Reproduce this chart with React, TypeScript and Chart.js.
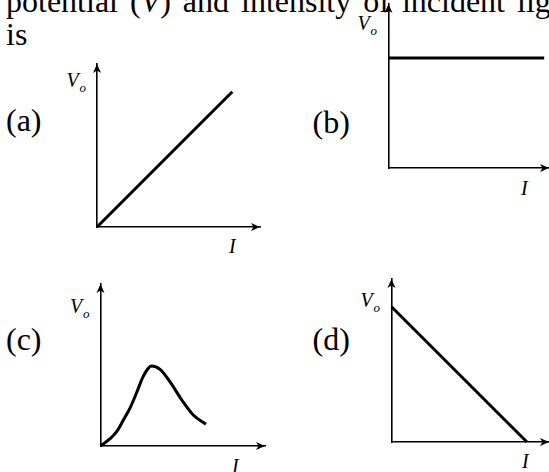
import React, { useEffect, useRef } from "react";
import { Chart, registerables } from "chart.js";

Chart.register(...registerables);

const PAGE_W = 549;
const PAGE_H = 472;

// Stopping potential (V_o) against intensity (I) for the four options
const aIntensity = [0, 8.3];
const aPotential = [0, 8.3];

const bIntensity = [0, 9.7];
const bPotential = [6.7, 6.7];

const cIntensity = [0, 0.58, 0.98, 1.39, 1.8, 2.2, 2.6, 3.11, 3.62, 4.22, 4.94, 5.64, 6.41];
const cPotential = [0, 0.45, 0.88, 1.6, 2.35, 3.3, 4.3, 4.94, 4.73, 3.97, 2.84, 1.91, 1.34];

const dIntensity = [0, 8.6];
const dPotential = [8.3, 0];

const optionLabels = ["(a)", "(b)", "(c)", "(d)"];
const xAxisLabel = "I";
const yAxisLabel = "V";
const yAxisSub = "o";
const questionLine1 = ["potential (", "V", ") and intensity of incident light"];
const questionLine2 = "is";

const SERIF = '"Liberation Serif", "Times New Roman", Times, serif';

type Box = { left: number; top: number; right: number; bottom: number };

// Axis frame of each small plot on the page (origin at bottom-left, arrow tips at top/right)
const panels: { xs: number[]; ys: number[]; box: Box; smooth: boolean }[] = [
  { xs: aIntensity, ys: aPotential, box: { left: 97, top: 64, right: 260, bottom: 227 }, smooth: false },
  { xs: bIntensity, ys: bPotential, box: { left: 388.5, top: 4, right: 549, bottom: 168 }, smooth: false },
  { xs: cIntensity, ys: cPotential, box: { left: 100.5, top: 284, right: 265, bottom: 446 }, smooth: true },
  { xs: dIntensity, ys: dPotential, box: { left: 391.5, top: 279, right: 549, bottom: 442 }, smooth: false },
];

// Arrowheads at the ends of both axes
const arrowPlugin = {
  id: "axisArrows",
  afterDraw(chart: any) {
    const { ctx, chartArea } = chart;
    const x0 = chart.scales.y.right;
    const y0 = chart.scales.x.top;
    const len = 9;
    const half = 4;
    const notch = 6.5;
    ctx.save();
    ctx.fillStyle = "#000";
    // up arrow on the V_o axis
    const tx = x0;
    const ty = chartArea.top;
    ctx.beginPath();
    ctx.moveTo(tx, ty);
    ctx.lineTo(tx - half, ty + len);
    ctx.lineTo(tx, ty + notch);
    ctx.lineTo(tx + half, ty + len);
    ctx.closePath();
    ctx.fill();
    // right arrow on the I axis
    const rx = chartArea.right;
    const ry = y0;
    ctx.beginPath();
    ctx.moveTo(rx, ry);
    ctx.lineTo(rx - len, ry - half);
    ctx.lineTo(rx - notch, ry);
    ctx.lineTo(rx - len, ry + half);
    ctx.closePath();
    ctx.fill();
    ctx.restore();
  },
};

function axisOptions() {
  return {
    type: "linear" as const,
    min: 0,
    max: 10,
    grid: { display: false, drawTicks: false },
    ticks: { display: false },
    border: { display: true, color: "#000", width: 1.6 },
  };
}

function Panel({ xs, ys, box, smooth }: { xs: number[]; ys: number[]; box: Box; smooth: boolean }) {
  const ref = useRef<HTMLCanvasElement>(null);
  useEffect(() => {
    if (!ref.current) return;
    const chart = new Chart(ref.current, {
      type: "line",
      data: {
        datasets: [
          {
            data: xs.map((x, i) => ({ x, y: ys[i] })),
            borderColor: "#000",
            borderWidth: 3,
            pointRadius: 0,
            fill: false,
            clip: false as any,
            tension: smooth ? 0.4 : 0,
            cubicInterpolationMode: smooth ? "monotone" : "default",
          } as any,
        ],
      },
      options: {
        responsive: false,
        animation: false,
        events: [],
        layout: {
          padding: {
            left: box.left,
            top: box.top,
            right: PAGE_W - box.right,
            bottom: PAGE_H - box.bottom,
          },
        },
        plugins: { legend: { display: false }, tooltip: { enabled: false } },
        scales: { x: axisOptions(), y: axisOptions() },
      },
      plugins: [arrowPlugin],
    });
    return () => chart.destroy();
  }, []);
  return (
    <canvas
      ref={ref}
      width={PAGE_W}
      height={PAGE_H}
      style={{ position: "absolute", left: 0, top: 0, width: PAGE_W, height: PAGE_H }}
    />
  );
}

// Text placed by its baseline
function Txt({
  x,
  base,
  size,
  italic,
  wordSpacing,
  children,
}: {
  x: number;
  base: number;
  size: number;
  italic?: boolean;
  wordSpacing?: number;
  children: React.ReactNode;
}) {
  return (
    <span
      style={{
        position: "absolute",
        left: x,
        top: base - 0.8375 * size,
        fontSize: size,
        lineHeight: `${size}px`,
        fontFamily: SERIF,
        fontStyle: italic ? "italic" : "normal",
        whiteSpace: "nowrap",
        wordSpacing: wordSpacing ?? 0,
        color: "#000",
      }}
    >
      {children}
    </span>
  );
}

function VoLabel({ x, base }: { x: number; base: number }) {
  return (
    <>
      <Txt x={x} base={base} size={20} italic>
        {yAxisLabel}
      </Txt>
      <Txt x={x + 13} base={base + 5} size={13} italic>
        {yAxisSub}
      </Txt>
    </>
  );
}

export default function App() {
  return (
    <div
      style={{
        position: "fixed",
        left: 0,
        top: 0,
        width: PAGE_W,
        height: PAGE_H,
        overflow: "hidden",
        background: "#fff",
      }}
    >
      <Txt x={6} base={12} size={32} wordSpacing={4}>
        {questionLine1[0]}
        <i>{questionLine1[1]}</i>
        {questionLine1[2]}
      </Txt>
      <Txt x={6} base={45} size={32}>
        {questionLine2}
      </Txt>

      <Txt x={6} base={131} size={32}>{optionLabels[0]}</Txt>
      <Txt x={312.5} base={133} size={32}>{optionLabels[1]}</Txt>
      <Txt x={6} base={349.5} size={32}>{optionLabels[2]}</Txt>
      <Txt x={312.5} base={350} size={32}>{optionLabels[3]}</Txt>

      <VoLabel x={66.5} base={87} />
      <VoLabel x={357.5} base={30} />
      <VoLabel x={70} base={313} />
      <VoLabel x={360.5} base={306.5} />

      <Txt x={229} base={253} size={20} italic>{xAxisLabel}</Txt>
      <Txt x={521} base={195} size={20} italic>{xAxisLabel}</Txt>
      <Txt x={232} base={473} size={20} italic>{xAxisLabel}</Txt>
      <Txt x={522} base={468} size={20} italic>{xAxisLabel}</Txt>

      {panels.map((p, i) => (
        <Panel key={i} xs={p.xs} ys={p.ys} box={p.box} smooth={p.smooth} />
      ))}
    </div>
  );
}
